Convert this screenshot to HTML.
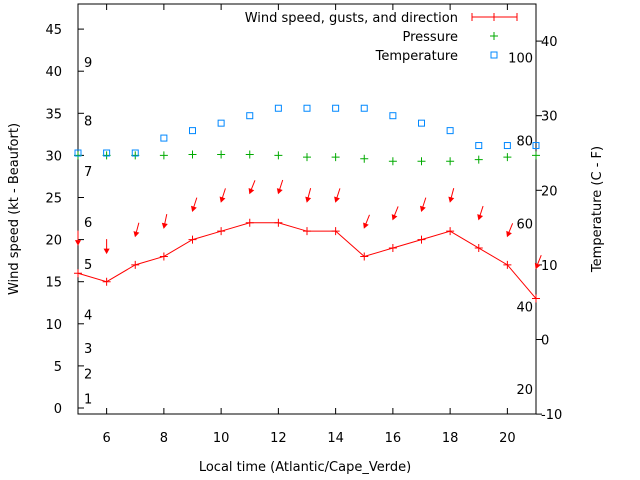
<!DOCTYPE html>
<html><head><meta charset="utf-8"><style>
body{margin:0;background:#fff}
svg{display:block;font-family:"DejaVu Sans","Liberation Sans",sans-serif}
</style></head><body>
<svg id="c" width="640" height="480"></svg>
<script>
const hours=[5,6,7,8,9,10,11,12,13,14,15,16,17,18,19,20,21];
const windSpeed=[16,15,17,18,20,21,22,22,21,21,18,19,20,21,19,17,13];
const gusts=[19.4,18.4,20.4,21.4,23.4,24.5,25.5,25.5,24.5,24.5,21.4,22.4,23.4,24.5,22.4,20.4,16.6];
const windDir=[0,0,15,12,18,18,22,18,15,18,22,22,18,15,18,22,22];
const pressure=[30,30,30,30,30.1,30.1,30.1,30,29.8,29.8,29.6,29.3,29.3,29.3,29.5,29.8,30];
const temperature=[25,25,25,27,28,29,30,31,31,31,31,30,29,28,26,26,26];
const xTicks=[6,8,10,12,14,16,18,20];
const yTicks=[0,5,10,15,20,25,30,35,40,45];
const y2Ticks=[-10,0,10,20,30,40];
const beaufortLabels=["1","2","3","4","5","6","7","8","9"];
const beaufortKt=[1,4,7,11,17,22,28,34,41];
const fahrenheit=[20,40,60,80,100];

const L=78,R=536,T=4,B=414;
const X=v=>L+(v-5)*(R-L)/16;
const Y=v=>408-v*8.42;
const Y2=v=>339.5-v*7.46;
const svg=document.getElementById('c');
const NS='http://www.w3.org/2000/svg';
const FS=13;
function mk(tag,attrs,txt){const e=document.createElementNS(NS,tag);for(const k in attrs)e.setAttribute(k,attrs[k]);if(txt!==undefined)e.textContent=txt;svg.appendChild(e);return e;}

let e;
e=mk('rect',{x:L,y:T,width:R-L,height:B-T,fill:'none',stroke:'#000','stroke-width':1});



xTicks.forEach(t=>{
  e=mk('line',{x1:X(t),x2:X(t),y1:B,y2:B-6,stroke:'#000'});
  
  
  e=mk('line',{x1:X(t),x2:X(t),y1:T,y2:T+6,stroke:'#000'});
  
  
  e=mk('text',{x:X(t),y:442,'text-anchor':'middle','font-size':FS,fill:'#000'},String(t));
  
  
});
yTicks.forEach(t=>{
  e=mk('line',{x1:L,x2:L+6,y1:Y(t),y2:Y(t),stroke:'#000'});
  
  
  e=mk('text',{x:62,y:Y(t)+5,'text-anchor':'end','font-size':FS,fill:'#000'},String(t));
  
  
});
y2Ticks.forEach(t=>{
  e=mk('line',{x1:R,x2:R+6,y1:Y2(t),y2:Y2(t),stroke:'#000'});
  
  
  e=mk('text',{x:541,y:Y2(t)+5,'font-size':FS,fill:'#000'},String(t));
  
  
});
beaufortLabels.forEach((s,i)=>{
  e=mk('text',{x:84,y:Y(beaufortKt[i])+4,'font-size':FS,fill:'#000'},s);
  
  
});
fahrenheit.forEach(f=>{
  e=mk('text',{x:533,y:Y2((f-32)*5/9)+5,'text-anchor':'end','font-size':FS,fill:'#000'},String(f));
  
  
});

e=mk('polyline',{points:hours.map((h,i)=>X(h)+','+Y(windSpeed[i])).join(' '),fill:'none',stroke:'#f00','stroke-width':1});


hours.forEach((h,i)=>{
  const x=X(h),y=Y(windSpeed[i]);
  e=mk('path',{d:`M${x-4},${y}H${x+4}M${x},${y-4}V${y+4}`,stroke:'#f00'});
  
  
  const tx=x,ty=Y(gusts[i]),a=windDir[i]*Math.PI/180,len=14;
  const sx=tx+Math.sin(a)*len,sy=ty-Math.cos(a)*len;
  const ux=(tx-sx)/len,uy=(ty-sy)/len;
  const hx=tx-ux*4,hy=ty-uy*4,px=-uy*2.2,py=ux*2.2;
  e=mk('path',{d:`M${sx},${sy}L${tx},${ty}M${hx+px},${hy+py}L${tx},${ty}L${hx-px},${hy-py}Z`,stroke:'#f00',fill:'#f00','stroke-width':1});
  
  
  const py2=Y(pressure[i]);
  e=mk('path',{d:`M${x-4},${py2}H${x+4}M${x},${py2-4}V${py2+4}`,stroke:'#0a0'});
  
  
  e=mk('rect',{x:x-3,y:Y2(temperature[i])-3,width:6,height:6,fill:'none',stroke:'#08f'});
  
  
});

e=mk('text',{x:458,y:22,'text-anchor':'end','font-size':FS},'Wind speed, gusts, and direction');


e=mk('path',{d:'M472,17H517M472,13V21M517,13V21M494,13V21',stroke:'#f00'});


e=mk('text',{x:458,y:41,'text-anchor':'end','font-size':FS},'Pressure');


e=mk('path',{d:'M490,36H498M494,32V40',stroke:'#0a0'});


e=mk('text',{x:458,y:60,'text-anchor':'end','font-size':FS},'Temperature');


e=mk('rect',{x:491,y:52,width:6,height:6,fill:'none',stroke:'#08f'});



e=mk('text',{x:305,y:471,'text-anchor':'middle','font-size':FS},'Local time (Atlantic/Cape_Verde)');


e=mk('text',{x:0,y:0,'text-anchor':'middle','font-size':FS,transform:'translate(18,209) rotate(-90)'},'Wind speed (kt - Beaufort)');


e=mk('text',{x:0,y:0,'text-anchor':'middle','font-size':FS,transform:'translate(601,209) rotate(-90)'},'Temperature (C - F)');


</script>
</body></html>
